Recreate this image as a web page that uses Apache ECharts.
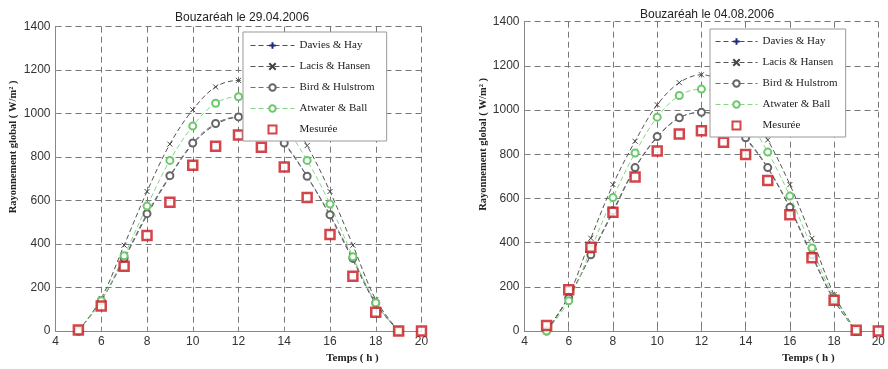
<!DOCTYPE html>
<html>
<head>
<meta charset="utf-8">
<script src="https://cdn.jsdelivr.net/npm/echarts@6/dist/echarts.min.js"></script>
<style>
  html, body { margin: 0; padding: 0; background: #fff; }
  #chart { width: 888px; height: 369px; }
</style>
</head>
<body>
<div id="chart"></div>
<script>
// 数据 - heures
var hours = [5, 6, 7, 8, 9, 10, 11, 12, 13, 14, 15, 16, 17, 18, 19, 20]
var modelHours = [5, 6, 7, 8, 9, 10, 11, 12, 13, 14, 15, 16, 17, 18, 19]

// 29.04.2006
var davies1 = [0, 140, 330, 533, 710, 860, 950, 983, 955, 860, 710, 530, 327, 125, 0]
var lacis1 = [0, 150, 395, 642, 860, 1018, 1123, 1153, 1123, 1018, 853, 642, 395, 145, 0]
var bird1 = [0, 140, 335, 540, 715, 865, 955, 985, 955, 865, 712, 535, 335, 130, 0]
var atwater1 = [0, 140, 347, 575, 785, 943, 1048, 1078, 1048, 943, 785, 584, 342, 130, 0]
var mesure1 = [5, 115, 298, 440, 593, 763, 850, 902, 845, 755, 615, 444, 252, 87, 0, 0]

// 04.08.2006
var davies2 = [0, 155, 343, 538, 737, 877, 965, 990, 965, 870, 737, 556, 339, 140, 0]
var lacis2 = [0, 160, 420, 663, 859, 1024, 1124, 1160, 1124, 1024, 865, 663, 420, 165, 0]
var bird2 = [0, 150, 345, 545, 740, 880, 965, 990, 965, 875, 740, 560, 345, 140, 0]
var atwater2 = [0, 137, 370, 604, 806, 968, 1066, 1095, 1066, 968, 810, 611, 376, 150, 0]
var mesure2 = [25, 187, 379, 538, 697, 815, 892, 906, 855, 799, 681, 526, 332, 140, 4, 0]

var names = ['Davies & Hay', 'Lacis & Hansen', 'Bird & Hulstrom', 'Atwater & Ball', 'Mesurée']

// 常量 styles
var gridColor = '#777'
var axisColor = '#888'
var labelFont = 'Liberation Sans'
var serifFont = 'Liberation Serif'
var plusPath = 'path://M5,0 L5,10 M0,5 L10,5'
var crossPath = 'path://M0,0 L10,10 M10,0 L0,10'
var squarePath = 'path://M0,0 L10,0 L10,10 L0,10 Z'

function pairs(xs, ys) {
    return xs.map((x, i) => [x, ys[i]])
}

function modelLine(name, idx, values, color, symbol, size, markColor) {
    return {
        name: name,
        type: 'line',
        xAxisIndex: idx,
        yAxisIndex: idx,
        smooth: 0.35,
        symbol: symbol,
        symbolSize: size,
        showAllSymbol: true,
        lineStyle: { color: color, width: 1, type: [5, 3] },
        itemStyle: { color: markColor, borderColor: markColor, borderWidth: 1 },
        data: pairs(modelHours, values)
    }
}

function measured(idx, values) {
    return {
        name: 'Mesurée',
        type: 'scatter',
        xAxisIndex: idx,
        yAxisIndex: idx,
        symbol: 'rect',
        symbolSize: 9,
        z: 5,
        itemStyle: { color: '#fff', borderColor: '#c8161d', borderWidth: 2.5 },
        data: pairs(hours, values)
    }
}

function xAxisOf(idx, shift) {
    return {
        gridIndex: idx,
        type: 'value',
        min: 4,
        max: 20,
        interval: 2,
        name: 'Temps ( h )',
        nameLocation: 'middle',
        nameGap: 20,
        nameTextStyle: { fontFamily: serifFont, fontWeight: 'bold', fontSize: 11, color: '#222', padding: [0, 0, 0, shift] },
        axisLine: { lineStyle: { color: axisColor, width: 1 } },
        axisTick: { inside: true, length: 4, lineStyle: { color: axisColor } },
        axisLabel: { color: '#333', fontFamily: labelFont, fontSize: 12, margin: 5 },
        splitLine: { show: true, lineStyle: { color: gridColor, width: 1, type: [6, 4] } }
    }
}

function yAxisOf(idx, gap) {
    return {
        gridIndex: idx,
        type: 'value',
        min: 0,
        max: 1400,
        interval: 200,
        name: 'Rayonnement global ( W/m² )',
        nameLocation: 'middle',
        nameGap: gap,
        nameTextStyle: { fontFamily: serifFont, fontWeight: 'bold', fontSize: 10.5, color: '#222', padding: [0, 0, 0, 64] },
        axisLine: { show: true, lineStyle: { color: axisColor, width: 1 } },
        axisTick: { show: true, inside: true, length: 4, lineStyle: { color: axisColor } },
        axisLabel: { color: '#333', fontFamily: labelFont, fontSize: 12, margin: 5, formatter: v => String(v) },
        splitLine: { show: true, lineStyle: { color: gridColor, width: 1, type: [6, 4] } }
    }
}

function legendOf(left, top, iw, pad) {
    return {
        orient: 'vertical',
        left: left,
        top: top,
        z: 10,
        data: names.map(n => n === 'Mesurée' ? { name: n, icon: squarePath } : n),
        backgroundColor: '#fff',
        borderColor: '#999',
        borderWidth: 1,
        borderRadius: 0,
        padding: pad,
        itemWidth: iw,
        itemHeight: 8,
        itemGap: 10,
        lineStyle: { width: 1 },
        textStyle: { fontFamily: serifFont, fontSize: 11, color: '#222' }
    }
}

var option = {
    animation: false,
    backgroundColor: '#fff',
    title: [
        { text: 'Bouzaréah le 29.04.2006', left: 170, top: 7, textStyle: { fontFamily: labelFont, fontSize: 12, fontWeight: 'normal', color: '#222' } },
        { text: 'Bouzaréah le 04.08.2006', left: 635, top: 4, textStyle: { fontFamily: labelFont, fontSize: 12, fontWeight: 'normal', color: '#222' } }
    ],
    legend: [legendOf(243, 32, 44, [8, 12, 6, 7]), legendOf(710, 29, 42, [7, 8, 6, 5])],
    grid: [
        { left: 55.5, top: 26.7, width: 366, height: 311 },
        { left: 524.5, top: 21.7, width: 362.5, height: 316.6 }
    ],
    xAxis: [xAxisOf(0, 228), xAxisOf(1, 214)],
    yAxis: [yAxisOf(0, 37), yAxisOf(1, 30)],
    series: [
        modelLine('Davies & Hay', 0, davies1, '#4a4e5e', plusPath, 6, '#1c2a7a'),
        modelLine('Lacis & Hansen', 0, lacis1, '#555', crossPath, 5, '#444'),
        modelLine('Bird & Hulstrom', 0, bird1, '#707070', 'emptyCircle', 7, '#666'),
        modelLine('Atwater & Ball', 0, atwater1, '#86d486', 'emptyCircle', 7, '#6cc86c'),
        measured(0, mesure1),
        modelLine('Davies & Hay', 1, davies2, '#4a4e5e', plusPath, 6, '#1c2a7a'),
        modelLine('Lacis & Hansen', 1, lacis2, '#555', crossPath, 5, '#444'),
        modelLine('Bird & Hulstrom', 1, bird2, '#707070', 'emptyCircle', 7, '#666'),
        modelLine('Atwater & Ball', 1, atwater2, '#86d486', 'emptyCircle', 7, '#6cc86c'),
        measured(1, mesure2)
    ]
}

let chart = echarts.init(document.getElementById('chart'))
chart.setOption(option)
</script>
</body>
</html>
